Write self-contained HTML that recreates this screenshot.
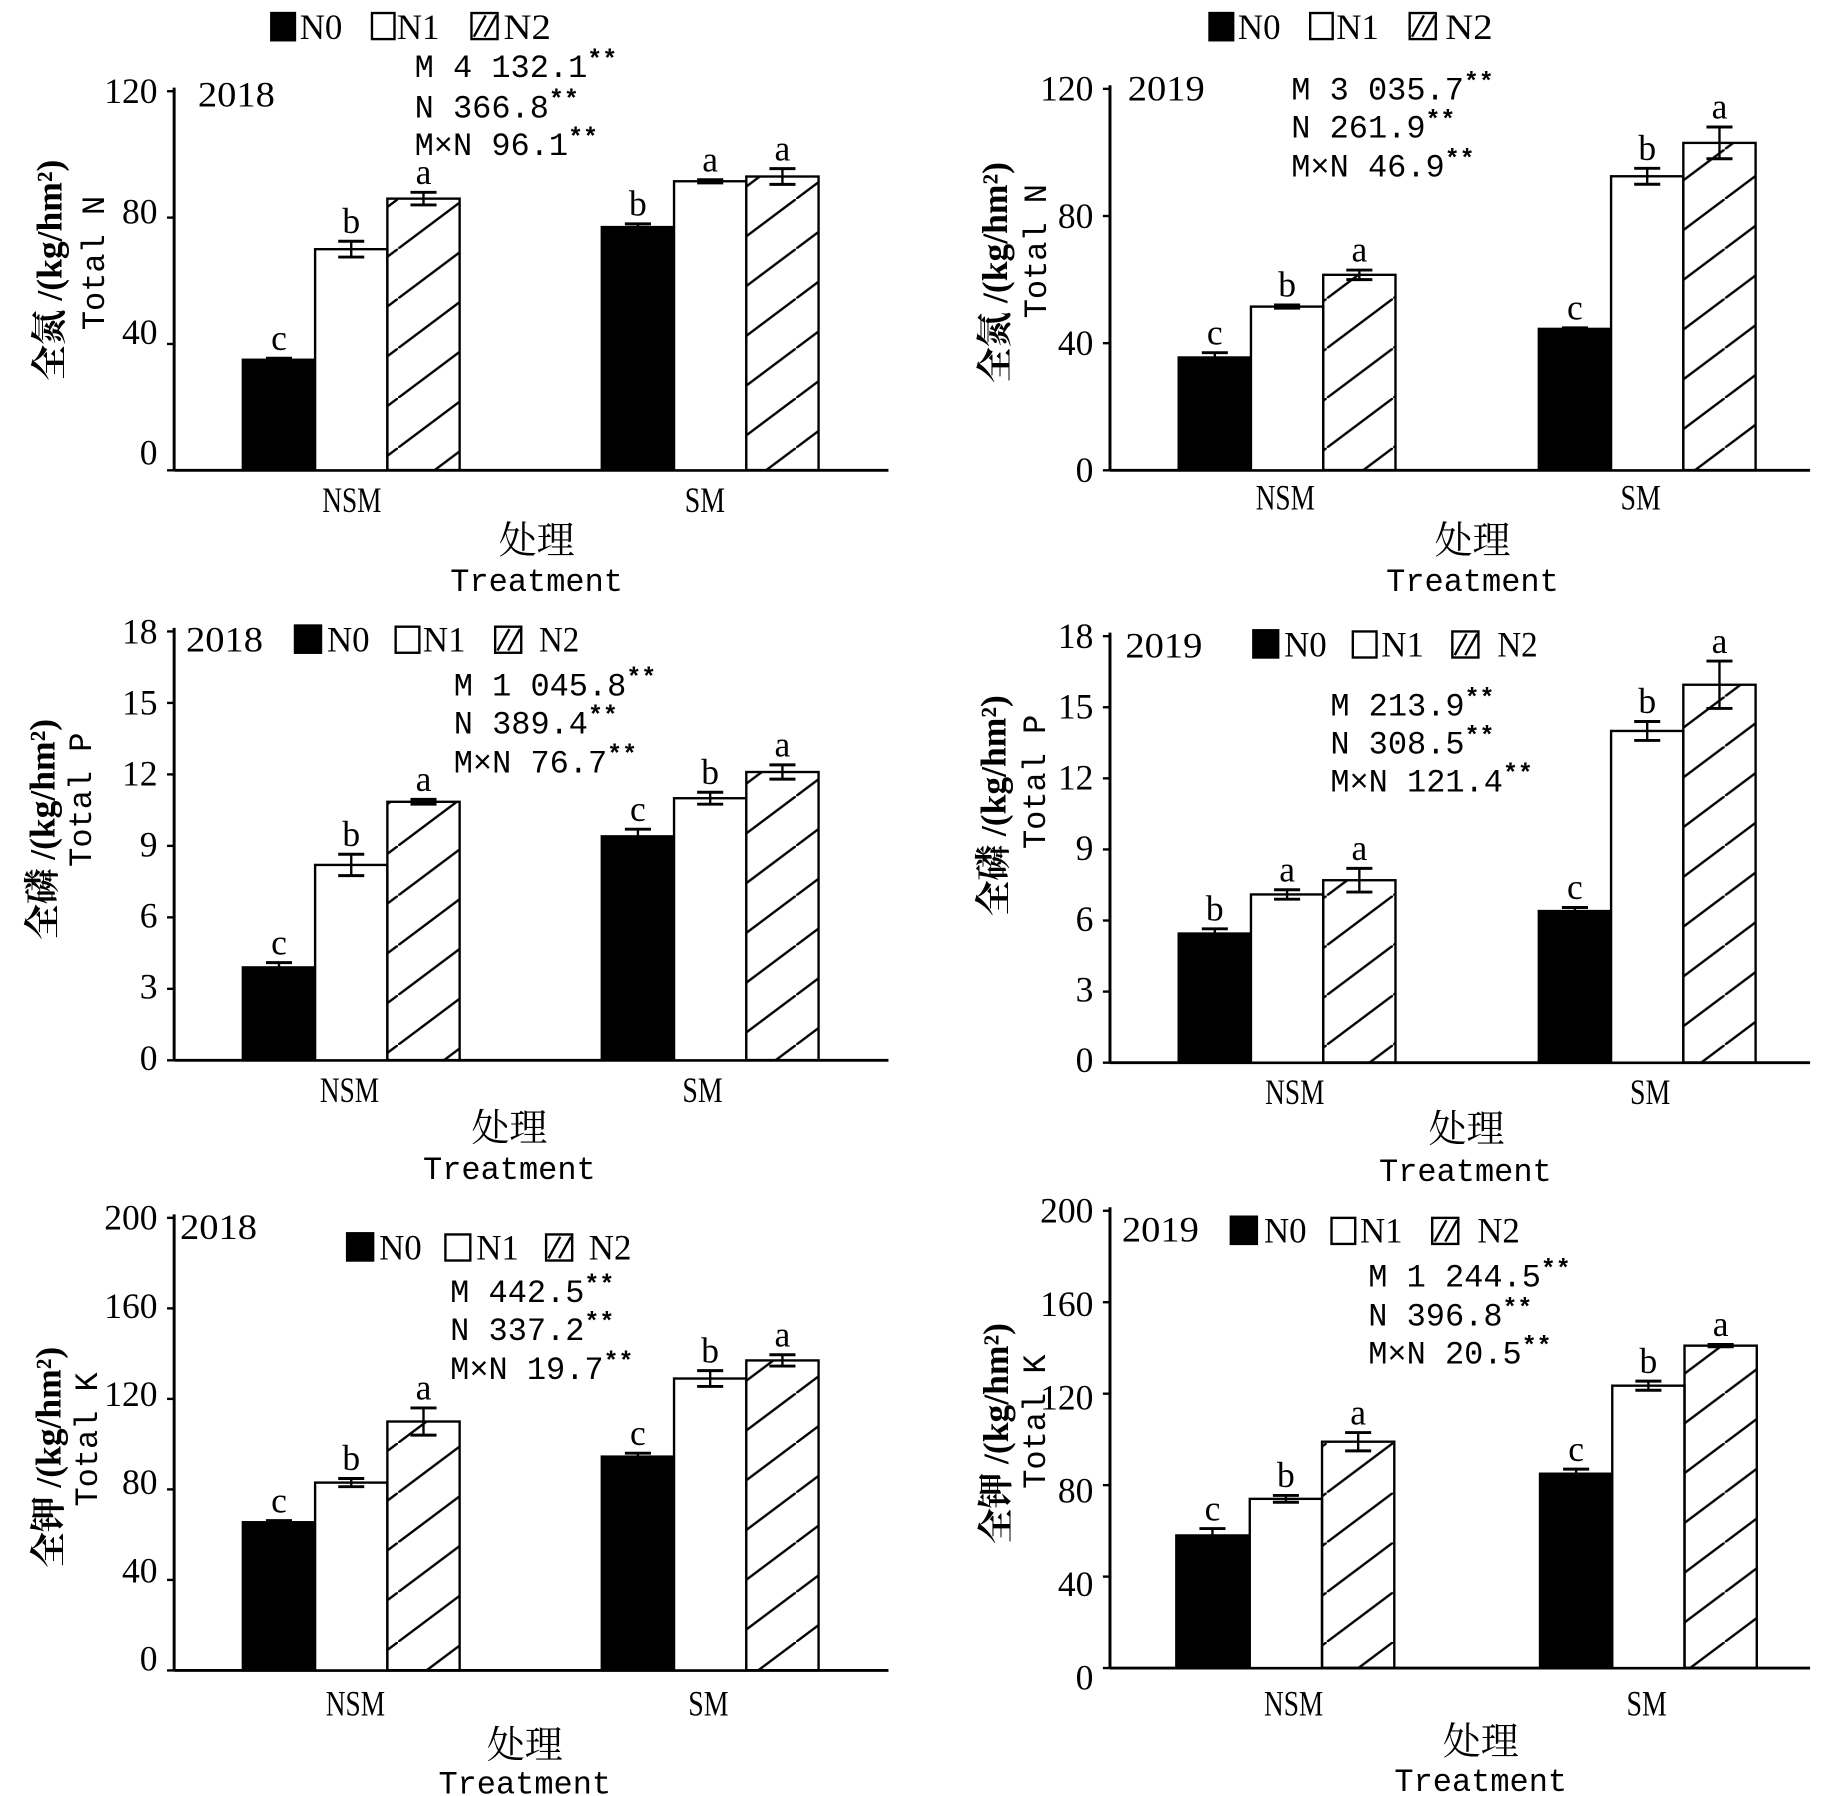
<!DOCTYPE html>
<html><head><meta charset="utf-8"><style>
html,body{margin:0;padding:0;background:#fff}
svg{display:block}
.t{font-family:"Liberation Serif","Noto Serif CJK SC",serif;font-size:30px}
.m{font-family:"Liberation Mono","Noto Sans CJK SC",monospace;font-size:27px}
.y{font-family:"Liberation Serif","Noto Serif CJK SC",serif;font-size:30px;font-weight:bold}
.c{font-family:"Liberation Serif","Noto Serif CJK SC",serif;font-size:32px}
.s{font-size:21px;font-weight:bold}
</style></head><body>
<svg id="s" xmlns="http://www.w3.org/2000/svg" width="1848" height="1796" viewBox="0 0 1560 1516" preserveAspectRatio="none">
<defs>
<pattern id="h" patternUnits="userSpaceOnUse" width="56" height="42">
<line x1="-1" y1="42.75" x2="57" y2="-0.75" stroke="#000" stroke-width="2"/>
</pattern>
</defs>
<rect width="1560" height="1516" fill="#fff"/>
<g id="g"></g>

<!-- Panel 1 -->
<rect x="228" y="10" width="22" height="25" fill="#000"/><text class="t" x="253" y="33" textLength="36" lengthAdjust="spacingAndGlyphs">N0</text>
<rect x="314" y="11" width="19" height="22" fill="#fff" stroke="#000" stroke-width="2"/><text class="t" x="335" y="33" textLength="36" lengthAdjust="spacingAndGlyphs">N1</text>
<rect x="398" y="11" width="22" height="22" fill="#fff" stroke="#000" stroke-width="2"/><line x1="400" y1="31" x2="410" y2="13" stroke="#000" stroke-width="2"/><line x1="409" y1="31" x2="419" y2="13" stroke="#000" stroke-width="2"/><text class="t" x="425" y="33" textLength="40" lengthAdjust="spacingAndGlyphs">N2</text>
<text class="t" x="167" y="90" textLength="65" lengthAdjust="spacingAndGlyphs">2018</text>
<text class="m" x="350" y="65">M 4 132.1<tspan class="s" dy="-9">**</tspan></text>
<text class="m" x="350" y="99">N 366.8<tspan class="s" dy="-9">**</tspan></text>
<text class="m" x="350" y="131">M×N 96.1<tspan class="s" dy="-9">**</tspan></text>
<text class="y" transform="translate(52,228) rotate(-90)" text-anchor="middle">全氮 /(kg/hm²)</text>
<text class="m" transform="translate(88,222) rotate(-90)" text-anchor="middle" font-size="28">Total N</text>
<text class="t" x="297" y="432" text-anchor="middle" textLength="50" lengthAdjust="spacingAndGlyphs">NSM</text>
<text class="t" x="595" y="432" text-anchor="middle" textLength="34" lengthAdjust="spacingAndGlyphs">SM</text>
<text class="c" x="453" y="467" text-anchor="middle">处理</text>
<text class="m" x="453" y="499" text-anchor="middle" font-size="28">Treatment</text>

<!-- Panel 2 -->
<rect x="1020" y="10" width="22" height="25" fill="#000"/><text class="t" x="1045" y="33" textLength="36" lengthAdjust="spacingAndGlyphs">N0</text>
<rect x="1106" y="11" width="19" height="22" fill="#fff" stroke="#000" stroke-width="2"/><text class="t" x="1128" y="33" textLength="36" lengthAdjust="spacingAndGlyphs">N1</text>
<rect x="1190" y="11" width="22" height="22" fill="#fff" stroke="#000" stroke-width="2"/><line x1="1192" y1="31" x2="1202" y2="13" stroke="#000" stroke-width="2"/><line x1="1201" y1="31" x2="1211" y2="13" stroke="#000" stroke-width="2"/><text class="t" x="1220" y="33" textLength="40" lengthAdjust="spacingAndGlyphs">N2</text>
<text class="t" x="952" y="85" textLength="65" lengthAdjust="spacingAndGlyphs">2019</text>
<text class="m" x="1090" y="84">M 3 035.7<tspan class="s" dy="-9">**</tspan></text>
<text class="m" x="1090" y="116">N 261.9<tspan class="s" dy="-9">**</tspan></text>
<text class="m" x="1090" y="149">M×N 46.9<tspan class="s" dy="-9">**</tspan></text>
<text class="y" transform="translate(850,230) rotate(-90)" text-anchor="middle">全氮 /(kg/hm²)</text>
<text class="m" transform="translate(883,212) rotate(-90)" text-anchor="middle" font-size="28">Total N</text>
<text class="t" x="1085" y="430" text-anchor="middle" textLength="50" lengthAdjust="spacingAndGlyphs">NSM</text>
<text class="t" x="1385" y="430" text-anchor="middle" textLength="34" lengthAdjust="spacingAndGlyphs">SM</text>
<text class="c" x="1243" y="467" text-anchor="middle">处理</text>
<text class="m" x="1243" y="499" text-anchor="middle" font-size="28">Treatment</text>

<!-- Panel 3 -->
<text class="t" x="157" y="550" textLength="65" lengthAdjust="spacingAndGlyphs">2018</text>
<rect x="248" y="527" width="24" height="25" fill="#000"/><text class="t" x="276" y="550" textLength="36" lengthAdjust="spacingAndGlyphs">N0</text>
<rect x="334" y="529" width="20" height="22" fill="#fff" stroke="#000" stroke-width="2"/><text class="t" x="357" y="550" textLength="36" lengthAdjust="spacingAndGlyphs">N1</text>
<rect x="418" y="529" width="22" height="22" fill="#fff" stroke="#000" stroke-width="2"/><line x1="420" y1="549" x2="430" y2="531" stroke="#000" stroke-width="2"/><line x1="429" y1="549" x2="439" y2="531" stroke="#000" stroke-width="2"/><text class="t" x="455" y="550" textLength="34" lengthAdjust="spacingAndGlyphs">N2</text>
<text class="m" x="383" y="587">M 1 045.8<tspan class="s" dy="-9">**</tspan></text>
<text class="m" x="383" y="619">N 389.4<tspan class="s" dy="-9">**</tspan></text>
<text class="m" x="383" y="652">M×N 76.7<tspan class="s" dy="-9">**</tspan></text>
<text class="y" transform="translate(46,700) rotate(-90)" text-anchor="middle">全磷 /(kg/hm²)</text>
<text class="m" transform="translate(77,675) rotate(-90)" text-anchor="middle" font-size="28">Total P</text>
<text class="t" x="295" y="930" text-anchor="middle" textLength="50" lengthAdjust="spacingAndGlyphs">NSM</text>
<text class="t" x="593" y="930" text-anchor="middle" textLength="34" lengthAdjust="spacingAndGlyphs">SM</text>
<text class="c" x="430" y="963" text-anchor="middle">处理</text>
<text class="m" x="430" y="995" text-anchor="middle" font-size="28">Treatment</text>

<!-- Panel 4 -->
<text class="t" x="950" y="555" textLength="65" lengthAdjust="spacingAndGlyphs">2019</text>
<rect x="1057" y="531" width="23" height="25" fill="#000"/><text class="t" x="1084" y="554" textLength="36" lengthAdjust="spacingAndGlyphs">N0</text>
<rect x="1142" y="533" width="20" height="22" fill="#fff" stroke="#000" stroke-width="2"/><text class="t" x="1166" y="554" textLength="36" lengthAdjust="spacingAndGlyphs">N1</text>
<rect x="1226" y="533" width="22" height="22" fill="#fff" stroke="#000" stroke-width="2"/><line x1="1228" y1="553" x2="1238" y2="535" stroke="#000" stroke-width="2"/><line x1="1237" y1="553" x2="1247" y2="535" stroke="#000" stroke-width="2"/><text class="t" x="1264" y="554" textLength="34" lengthAdjust="spacingAndGlyphs">N2</text>
<text class="m" x="1123" y="604">M 213.9<tspan class="s" dy="-9">**</tspan></text>
<text class="m" x="1123" y="636">N 308.5<tspan class="s" dy="-9">**</tspan></text>
<text class="m" x="1123" y="668">M×N 121.4<tspan class="s" dy="-9">**</tspan></text>
<text class="y" transform="translate(849,680) rotate(-90)" text-anchor="middle">全磷 /(kg/hm²)</text>
<text class="m" transform="translate(882,660) rotate(-90)" text-anchor="middle" font-size="28">Total P</text>
<text class="t" x="1093" y="932" text-anchor="middle" textLength="50" lengthAdjust="spacingAndGlyphs">NSM</text>
<text class="t" x="1393" y="932" text-anchor="middle" textLength="34" lengthAdjust="spacingAndGlyphs">SM</text>
<text class="c" x="1238" y="964" text-anchor="middle">处理</text>
<text class="m" x="1237" y="997" text-anchor="middle" font-size="28">Treatment</text>

<!-- Panel 5 -->
<text class="t" x="152" y="1046" textLength="65" lengthAdjust="spacingAndGlyphs">2018</text>
<rect x="292" y="1040" width="24" height="25" fill="#000"/><text class="t" x="320" y="1063" textLength="36" lengthAdjust="spacingAndGlyphs">N0</text>
<rect x="376" y="1042" width="21" height="22" fill="#fff" stroke="#000" stroke-width="2"/><text class="t" x="402" y="1063" textLength="36" lengthAdjust="spacingAndGlyphs">N1</text>
<rect x="461" y="1042" width="22" height="22" fill="#fff" stroke="#000" stroke-width="2"/><line x1="463" y1="1062" x2="473" y2="1044" stroke="#000" stroke-width="2"/><line x1="472" y1="1062" x2="482" y2="1044" stroke="#000" stroke-width="2"/><text class="t" x="497" y="1063" textLength="36" lengthAdjust="spacingAndGlyphs">N2</text>
<text class="m" x="380" y="1099">M 442.5<tspan class="s" dy="-9">**</tspan></text>
<text class="m" x="380" y="1131">N 337.2<tspan class="s" dy="-9">**</tspan></text>
<text class="m" x="380" y="1164">M×N 19.7<tspan class="s" dy="-9">**</tspan></text>
<text class="y" transform="translate(51,1230) rotate(-90)" text-anchor="middle">全钾 /(kg/hm²)</text>
<text class="m" transform="translate(82,1215) rotate(-90)" text-anchor="middle" font-size="28">Total K</text>
<text class="t" x="300" y="1448" text-anchor="middle" textLength="50" lengthAdjust="spacingAndGlyphs">NSM</text>
<text class="t" x="598" y="1448" text-anchor="middle" textLength="34" lengthAdjust="spacingAndGlyphs">SM</text>
<text class="c" x="443" y="1484" text-anchor="middle">处理</text>
<text class="m" x="443" y="1514" text-anchor="middle" font-size="28">Treatment</text>

<!-- Panel 6 -->
<text class="t" x="947" y="1048" textLength="65" lengthAdjust="spacingAndGlyphs">2019</text>
<rect x="1038" y="1026" width="24" height="25" fill="#000"/><text class="t" x="1067" y="1049" textLength="36" lengthAdjust="spacingAndGlyphs">N0</text>
<rect x="1124" y="1028" width="20" height="22" fill="#fff" stroke="#000" stroke-width="2"/><text class="t" x="1148" y="1049" textLength="36" lengthAdjust="spacingAndGlyphs">N1</text>
<rect x="1209" y="1028" width="22" height="22" fill="#fff" stroke="#000" stroke-width="2"/><line x1="1211" y1="1048" x2="1221" y2="1030" stroke="#000" stroke-width="2"/><line x1="1220" y1="1048" x2="1230" y2="1030" stroke="#000" stroke-width="2"/><text class="t" x="1247" y="1049" textLength="36" lengthAdjust="spacingAndGlyphs">N2</text>
<text class="m" x="1155" y="1086">M 1 244.5<tspan class="s" dy="-9">**</tspan></text>
<text class="m" x="1155" y="1119">N 396.8<tspan class="s" dy="-9">**</tspan></text>
<text class="m" x="1155" y="1151">M×N 20.5<tspan class="s" dy="-9">**</tspan></text>
<text class="y" transform="translate(851,1210) rotate(-90)" text-anchor="middle">全钾 /(kg/hm²)</text>
<text class="m" transform="translate(882,1200) rotate(-90)" text-anchor="middle" font-size="28">Total K</text>
<text class="t" x="1092" y="1448" text-anchor="middle" textLength="50" lengthAdjust="spacingAndGlyphs">NSM</text>
<text class="t" x="1390" y="1448" text-anchor="middle" textLength="34" lengthAdjust="spacingAndGlyphs">SM</text>
<text class="c" x="1250" y="1481" text-anchor="middle">处理</text>
<text class="m" x="1250" y="1512" text-anchor="middle" font-size="28">Treatment</text>
</svg>
<script>
var P=[
{ax:147,r:750,y0:397,yt:77,max:120,off:-15,labs:['0','40','80','120'],xs:[205,266,327,508,569,630],v:[[35,.5],[70,2.5],[86,2],[77,1],[91.5,.5],[93,2.5]],L:'cbabaa'},
{ax:937,r:1528,y0:397,yt:75,max:120,off:0,labs:['0','40','80','120'],xs:[995,1056,1117,1299,1360,1421],v:[[35.5,1.5],[51.5,.5],[61.5,1.5],[44.5,.3],[92.5,2.5],[103,5]],L:'cbacba'},
{ax:147,r:750,y0:895,yt:533,max:18,off:-2,labs:['0','3','6','9','12','15','18'],xs:[205,266,327,508,569,630],v:[[3.9,.2],[8.2,.45],[10.85,.1],[9.4,.3],[11,.25],[12.1,.3]],L:'cbacba'},
{ax:937,r:1528,y0:897,yt:537,max:18,off:-2,labs:['0','3','6','9','12','15','18'],xs:[995,1056,1117,1299,1360,1421],v:[[5.45,.2],[7.1,.2],[7.7,.5],[6.4,.15],[14,.4],[15.95,1]],L:'baacba'},
{ax:147,r:750,y0:1410,yt:1028,max:200,off:-10,labs:['0','40','80','120','160','200'],xs:[205,266,327,508,569,630],v:[[65.5,.7],[83,1.8],[110,6],[94.5,1.5],[129,3.5],[137,2.5]],L:'cbacba'},
{ax:937,r:1528,y0:1408,yt:1022,max:200,off:8,labs:['0','40','80','120','160','200'],xs:[993,1055,1116,1300,1361,1422],v:[[58,3],[74,1.5],[99,4],[85,2],[123.5,2],[141,.5]],L:'cbacba'}];
var o='',W=61;
P.forEach(function(p){
 var k=(p.y0-p.yt)/p.max,n=p.labs.length;
 o+='<line x1="'+p.ax+'" y1="'+(p.yt-3)+'" x2="'+p.ax+'" y2="'+p.y0+'" stroke="#000" stroke-width="2.5"/>';
 o+='<line x1="'+p.ax+'" y1="'+p.y0+'" x2="'+p.r+'" y2="'+p.y0+'" stroke="#000" stroke-width="2.5"/>';
 for(var i=0;i<n;i++){var y=p.y0-(p.y0-p.yt)*i/(n-1);var ly=y+p.off*(1-i/(n-1));
  o+='<line x1="'+(p.ax-6)+'" y1="'+y+'" x2="'+p.ax+'" y2="'+y+'" stroke="#000" stroke-width="2"/>';
  o+='<text class="t" x="'+(p.ax-14)+'" y="'+(ly+10)+'" text-anchor="end">'+p.labs[i]+'</text>';}
 p.v.forEach(function(d,j){
  var x=p.xs[j],top=p.y0-d[0]*k,e=d[1]*k,f=(j%3==0)?'#000':(j%3==1?'#fff':'url(#h)');
  o+='<rect x="'+x+'" y="'+top+'" width="'+W+'" height="'+(p.y0-top)+'" fill="'+f+'" stroke="#000" stroke-width="2"/>';
  var cx=x+W/2;
  o+='<line x1="'+cx+'" y1="'+(top-e)+'" x2="'+cx+'" y2="'+(top+e)+'" stroke="#000" stroke-width="2"/>';
  o+='<line x1="'+(cx-11)+'" y1="'+(top-e)+'" x2="'+(cx+11)+'" y2="'+(top-e)+'" stroke="#000" stroke-width="2.5"/>';
  o+='<line x1="'+(cx-11)+'" y1="'+(top+e)+'" x2="'+(cx+11)+'" y2="'+(top+e)+'" stroke="#000" stroke-width="2.5"/>';
  o+='<text class="t" x="'+cx+'" y="'+(top-e-7)+'" text-anchor="middle" font-size="28">'+p.L[j]+'</text>';
 });
});
document.getElementById('g').innerHTML=o;
</script>
</body></html>
